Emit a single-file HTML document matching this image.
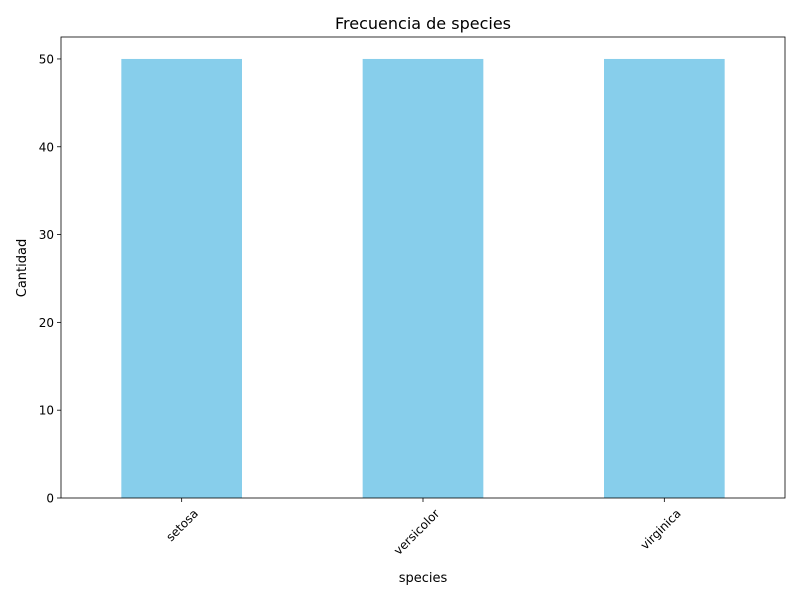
<!DOCTYPE html>
<html><head><meta charset="utf-8"><style>
html,body{margin:0;padding:0;background:#fff;}
svg{display:block;font-family:"DejaVu Sans","Liberation Sans",sans-serif;}
</style></head><body>
<svg id="chart" width="800" height="600">
<rect width="800" height="600" fill="#fff"/>
<text x="423" y="29" font-size="16" text-anchor="middle">Frecuencia de species</text>
<text x="423" y="582" font-size="13" text-anchor="middle">species</text>
<text transform="translate(26,268) rotate(-90)" font-size="13" text-anchor="middle">Cantidad</text>
<g id="bars"></g><g id="axes"></g>
</svg>
<script>
const categories = ["setosa", "versicolor", "virginica"];
const counts = [50, 50, 50];
const yTicks = [0, 10, 20, 30, 40, 50];

const L = 61, R = 785, T = 37, B = 498;
const yMax = Math.max(...counts) * 1.05;
const step = (R - L) / categories.length;
const xs = i => L + step * (i + 0.5);
const ys = v => B - (v / yMax) * (B - T);
const NS = "http://www.w3.org/2000/svg";
const bars = document.getElementById("bars");
const axes = document.getElementById("axes");
function mk(tag, attrs, parent) {
  const e = document.createElementNS(NS, tag);
  for (const k in attrs) e.setAttribute(k, attrs[k]);
  parent.appendChild(e);
  return e;
}
categories.forEach((c, i) => {
  const w = step * 0.5;
  const r = mk("rect", {x: xs(i) - w / 2, y: ys(counts[i]), width: w, height: B - ys(counts[i]), fill: "#87ceeb"}, bars);
  
  
  const t = mk("line", {x1: xs(i), x2: xs(i), y1: B, y2: B + 4, stroke: "#000", "stroke-width": 0.8}, axes);
  
  
  const lb = mk("text", {transform: `translate(${xs(i) + 11},${B + 10}) rotate(-45)`, "font-size": 12, "text-anchor": "end", "dominant-baseline": "hanging"}, axes);
  lb.textContent = c;
  
  
});
yTicks.forEach(v => {
  const t = mk("line", {x1: L - 4, x2: L, y1: ys(v), y2: ys(v), stroke: "#000", "stroke-width": 0.8}, axes);
  
  
  const lb = mk("text", {x: L - 7, y: ys(v) + 4.5, "font-size": 12, "text-anchor": "end"}, axes);
  lb.textContent = v;
  
  
});
const frame = mk("rect", {x: L, y: T, width: R - L, height: B - T, fill: "none", stroke: "#000", "stroke-width": 0.8}, axes);


</script>
</body></html>
